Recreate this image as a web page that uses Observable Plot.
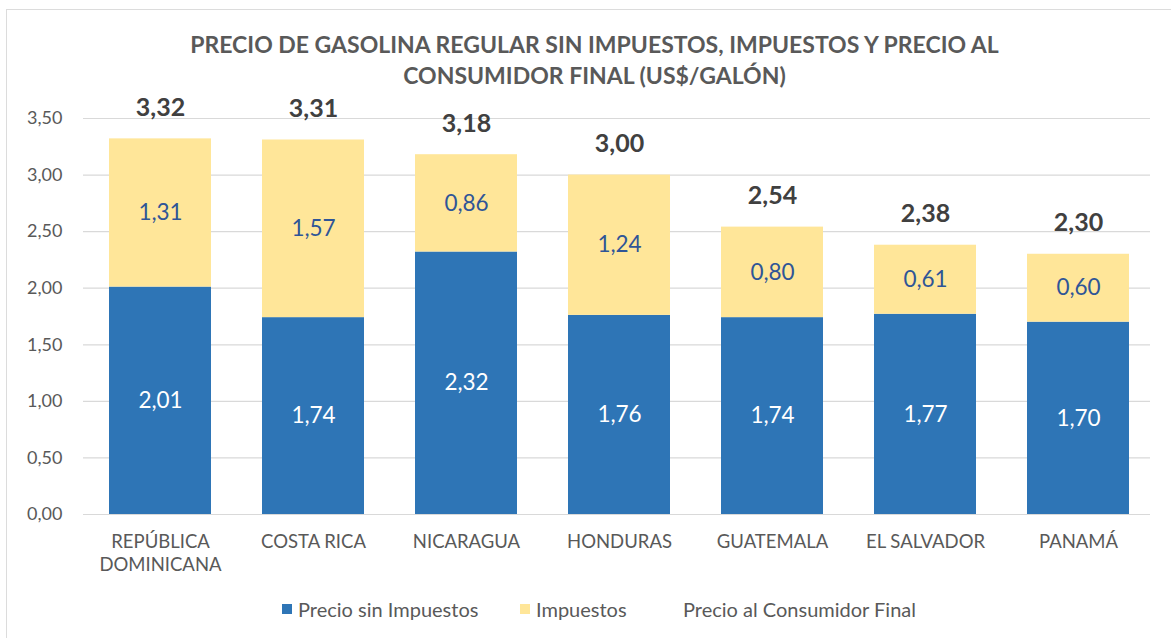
<!DOCTYPE html>
<html>
<head>
<meta charset="utf-8">
<script src="https://cdn.jsdelivr.net/npm/d3@7"></script>
<script src="https://cdn.jsdelivr.net/npm/@observablehq/plot@0.6"></script>
<style>
  html, body { margin: 0; padding: 0; background: #fff; }
  body { width: 1171px; height: 638px; overflow: hidden; font-family: Lato, "Open Sans", sans-serif; }
  #frame { position: absolute; left: 6px; top: 9px; width: 1200px; height: 700px; border-top: 1.5px solid #dcdcdc; border-left: 1.5px solid #dcdcdc; pointer-events: none; }
  #wrap { position: relative; width: 1171px; height: 638px; }
  #title { height: 95px; box-sizing: border-box; padding-top: 29px; padding-left: 18px; text-align: center; color: #595959; font-weight: 700; font-size: 23px; line-height: 31px; white-space: nowrap; }
  #chart svg { display: block; overflow: visible; }
  #legend { position: relative; height: 53px; color: #595959; font-size: 20px; }
  #legend .item { position: absolute; top: 12px; display: flex; align-items: center; white-space: nowrap; line-height: 24px; }
  #legend .sw { width: 10px; height: 10px; margin-right: 6px; }
</style>
</head>
<body>
<div id="wrap">
  <div id="frame"></div>
  <div id="title">PRECIO DE GASOLINA REGULAR SIN IMPUESTOS, IMPUESTOS Y PRECIO AL<br>CONSUMIDOR FINAL (US$/GALÓN)</div>
  <div id="chart"></div>
  <div id="legend"></div>
</div>
<script>
const countries = ["REPÚBLICA DOMINICANA", "COSTA RICA", "NICARAGUA", "HONDURAS", "GUATEMALA", "EL SALVADOR", "PANAMÁ"];
const sinImpuestos = [2.01, 1.74, 2.32, 1.76, 1.74, 1.77, 1.70];
const impuestos = [1.31, 1.57, 0.86, 1.24, 0.80, 0.61, 0.60];
const totales = [3.32, 3.31, 3.18, 3.00, 2.54, 2.38, 2.30];
const yTicks = [0, 0.5, 1, 1.5, 2, 2.5, 3, 3.5];
const seriesNames = ["Precio sin Impuestos", "Impuestos", "Precio al Consumidor Final"];
const seriesColors = ["#2E75B6", "#FFE699"];

const rows = [];
countries.forEach((c, i) => {
  rows.push({country: c, serie: seriesNames[0], value: sinImpuestos[i]});
  rows.push({country: c, serie: seriesNames[1], value: impuestos[i]});
});
const totalRows = countries.map((c, i) => ({country: c, value: totales[i]}));

const fmt = v => v.toFixed(2).replace(".", ",");
const xLabel = c => c === "REPÚBLICA DOMINICANA" ? "REPÚBLICA\nDOMINICANA" : c;

const chart = Plot.plot({
  width: 1171,
  height: 490,
  marginTop: 23,
  marginBottom: 71,
  marginLeft: 83,
  marginRight: 21,
  style: {fontFamily: "Lato, 'Open Sans', sans-serif", color: "#595959", background: "transparent"},
  x: {domain: countries, range: [82, 1156], paddingInner: 0.335, paddingOuter: 0.1675, label: null},
  y: {domain: [0, 3.5], label: null},
  color: {domain: seriesNames.slice(0, 2), range: seriesColors},
  marks: [
    Plot.gridY(yTicks, {stroke: "#d9d9d9", strokeOpacity: 1, strokeWidth: 1.2}),
    Plot.axisY(yTicks, {tickSize: 0, tickPadding: 21, tickFormat: fmt, fontSize: 18, fill: "#595959", label: null}),
    Plot.axisX({tickSize: 0, tickPadding: 17, tickFormat: xLabel, fontSize: 18.5, fill: "#595959", label: null, lineHeight: 1.25}),
    Plot.barY(rows, {x: "country", y: "value", fill: "serie"}),
    Plot.ruleY([0], {stroke: "#d9d9d9", strokeWidth: 1.2}),
    Plot.text(rows, Plot.stackY({x: "country", y: "value", z: "serie", text: d => fmt(d.value),
      fill: d => d.serie === seriesNames[0] ? "#ffffff" : "#2F5597", fontSize: 22.5})),
    Plot.text(totalRows, {x: "country", y: "value", text: d => fmt(d.value), dy: -31, fontSize: 25, fontWeight: "bold", fill: "#404040"})
  ]
});
document.getElementById("chart").appendChild(chart);

const legend = document.getElementById("legend");
const legendPos = [282, 520, 683];
seriesNames.forEach((name, i) => {
  const item = document.createElement("div");
  item.className = "item";
  item.style.left = legendPos[i] + "px";
  if (i < 2) {
    const sw = document.createElement("span");
    sw.className = "sw";
    sw.style.background = seriesColors[i];
    item.appendChild(sw);
  }
  const t = document.createElement("span");
  t.textContent = name;
  item.appendChild(t);
  legend.appendChild(item);
});
</script>
</body>
</html>
